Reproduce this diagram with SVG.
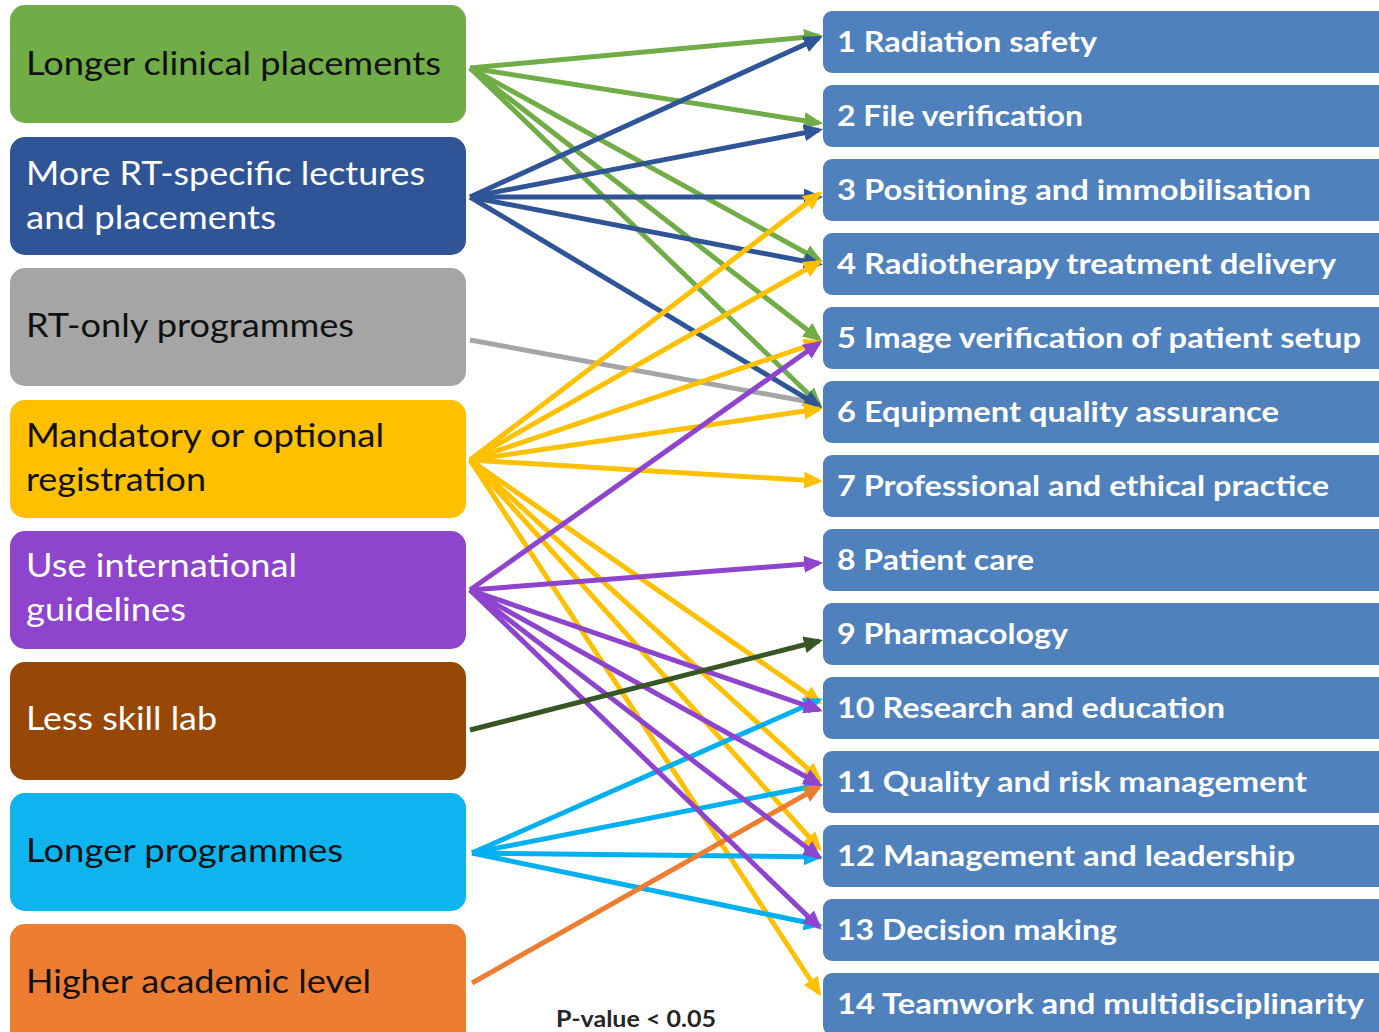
<svg xmlns="http://www.w3.org/2000/svg" width="1379" height="1032" viewBox="0 0 1379 1032">
  <style>
    .lbl { font-family: Lato, "Liberation Sans", sans-serif; font-size: 32px; }
    .dark { fill: #111111; }
    .light { fill: #ffffff; }
    .out { fill: #4F81BD; }
    .outlbl { font-family: Lato, "Liberation Sans", sans-serif; font-size: 28px; font-weight: bold; fill: #ffffff; }
    .con { fill: none; stroke-width: 5; stroke-linecap: butt; }
    .g { stroke: #70AD47; marker-end: url(#ah-g); }
    .b { stroke: #2F5597; marker-end: url(#ah-b); }
    .gr { stroke: #A5A5A5; }
    .y { stroke: #FFC000; marker-end: url(#ah-y); }
    .p { stroke: #8E44CC; marker-end: url(#ah-p); }
    .dg { stroke: #375623; marker-end: url(#ah-dg); }
    .c { stroke: #00B0F0; marker-end: url(#ah-c); }
    .o { stroke: #ED7D31; marker-end: url(#ah-o); }
    .note { font-family: Lato, "Liberation Sans", sans-serif; font-size: 22px; font-weight: bold; fill: #262626; }
  </style>
  <defs>
    <marker id="ah-g" markerUnits="userSpaceOnUse" markerWidth="19" markerHeight="17" refX="15" refY="8.5" orient="auto"><path d="M0,0 L19,8.5 L0,17 z" fill="#70AD47"/></marker>
    <marker id="ah-b" markerUnits="userSpaceOnUse" markerWidth="19" markerHeight="17" refX="15" refY="8.5" orient="auto"><path d="M0,0 L19,8.5 L0,17 z" fill="#2F5597"/></marker>
    <marker id="ah-y" markerUnits="userSpaceOnUse" markerWidth="19" markerHeight="17" refX="15" refY="8.5" orient="auto"><path d="M0,0 L19,8.5 L0,17 z" fill="#FFC000"/></marker>
    <marker id="ah-p" markerUnits="userSpaceOnUse" markerWidth="19" markerHeight="17" refX="15" refY="8.5" orient="auto"><path d="M0,0 L19,8.5 L0,17 z" fill="#8E44CC"/></marker>
    <marker id="ah-dg" markerUnits="userSpaceOnUse" markerWidth="19" markerHeight="17" refX="15" refY="8.5" orient="auto"><path d="M0,0 L19,8.5 L0,17 z" fill="#375623"/></marker>
    <marker id="ah-c" markerUnits="userSpaceOnUse" markerWidth="19" markerHeight="17" refX="15" refY="8.5" orient="auto"><path d="M0,0 L19,8.5 L0,17 z" fill="#00B0F0"/></marker>
    <marker id="ah-o" markerUnits="userSpaceOnUse" markerWidth="19" markerHeight="17" refX="15" refY="8.5" orient="auto"><path d="M0,0 L19,8.5 L0,17 z" fill="#ED7D31"/></marker>
  </defs>

  <rect width="1379" height="1032" fill="#ffffff"/>

  <!-- factor nodes (left column) -->
  <g id="f-clinical">
    <rect x="10" y="5" width="456" height="118" rx="15" fill="#70AD47"/>
    <text class="lbl dark" x="26" y="75" textLength="415" lengthAdjust="spacingAndGlyphs">Longer clinical placements</text>
  </g>
  <g id="f-rt-lectures">
    <rect x="10" y="137" width="456" height="118" rx="15" fill="#2F5597"/>
    <text class="lbl light" x="26" y="185" textLength="399" lengthAdjust="spacingAndGlyphs">More RT-specific lectures</text>
    <text class="lbl light" x="26" y="229" textLength="250" lengthAdjust="spacingAndGlyphs">and placements</text>
  </g>
  <g id="f-rt-only">
    <rect x="10" y="268" width="456" height="118" rx="15" fill="#A5A5A5"/>
    <text class="lbl dark" x="26" y="337" textLength="328" lengthAdjust="spacingAndGlyphs">RT-only programmes</text>
  </g>
  <g id="f-registration">
    <rect x="10" y="400" width="456" height="118" rx="15" fill="#FFC000"/>
    <text class="lbl dark" x="26" y="447" textLength="358" lengthAdjust="spacingAndGlyphs">Mandatory or optional</text>
    <text class="lbl dark" x="26" y="491" textLength="180" lengthAdjust="spacingAndGlyphs">registration</text>
  </g>
  <g id="f-guidelines">
    <rect x="10" y="531" width="456" height="118" rx="15" fill="#8E44CC"/>
    <text class="lbl light" x="26" y="577" textLength="271" lengthAdjust="spacingAndGlyphs">Use international</text>
    <text class="lbl light" x="26" y="621" textLength="160" lengthAdjust="spacingAndGlyphs">guidelines</text>
  </g>
  <g id="f-skill-lab">
    <rect x="10" y="662" width="456" height="118" rx="15" fill="#974706"/>
    <text class="lbl light" x="26" y="730" textLength="191" lengthAdjust="spacingAndGlyphs">Less skill lab</text>
  </g>
  <g id="f-longer-prog">
    <rect x="10" y="793" width="456" height="118" rx="15" fill="#0EB4EE"/>
    <text class="lbl dark" x="26" y="862" textLength="317" lengthAdjust="spacingAndGlyphs">Longer programmes</text>
  </g>
  <g id="f-academic">
    <rect x="10" y="924" width="456" height="130" rx="15" fill="#ED7D31"/>
    <text class="lbl dark" x="26" y="993" textLength="345" lengthAdjust="spacingAndGlyphs">Higher academic level</text>
  </g>

  <!-- competency nodes (right column) -->
  <g id="c1"><rect class="out" x="823" y="11" width="580" height="62" rx="9"/><text class="outlbl" x="837" y="52" textLength="260" lengthAdjust="spacingAndGlyphs">1 Radiation safety</text></g>
  <g id="c2"><rect class="out" x="823" y="85" width="580" height="62" rx="9"/><text class="outlbl" x="837" y="126" textLength="246" lengthAdjust="spacingAndGlyphs">2 File verification</text></g>
  <g id="c3"><rect class="out" x="823" y="159" width="580" height="62" rx="9"/><text class="outlbl" x="837" y="200" textLength="474" lengthAdjust="spacingAndGlyphs">3 Positioning and immobilisation</text></g>
  <g id="c4"><rect class="out" x="823" y="233" width="580" height="62" rx="9"/><text class="outlbl" x="837" y="274" textLength="499" lengthAdjust="spacingAndGlyphs">4 Radiotherapy treatment delivery</text></g>
  <g id="c5"><rect class="out" x="823" y="307" width="580" height="62" rx="9"/><text class="outlbl" x="837" y="348" textLength="524" lengthAdjust="spacingAndGlyphs">5 Image verification of patient setup</text></g>
  <g id="c6"><rect class="out" x="823" y="381" width="580" height="62" rx="9"/><text class="outlbl" x="837" y="422" textLength="442" lengthAdjust="spacingAndGlyphs">6 Equipment quality assurance</text></g>
  <g id="c7"><rect class="out" x="823" y="455" width="580" height="62" rx="9"/><text class="outlbl" x="837" y="496" textLength="492" lengthAdjust="spacingAndGlyphs">7 Professional and ethical practice</text></g>
  <g id="c8"><rect class="out" x="823" y="529" width="580" height="62" rx="9"/><text class="outlbl" x="837" y="570" textLength="197" lengthAdjust="spacingAndGlyphs">8 Patient care</text></g>
  <g id="c9"><rect class="out" x="823" y="603" width="580" height="62" rx="9"/><text class="outlbl" x="837" y="644" textLength="231" lengthAdjust="spacingAndGlyphs">9 Pharmacology</text></g>
  <g id="c10"><rect class="out" x="823" y="677" width="580" height="62" rx="9"/><text class="outlbl" x="837" y="718" textLength="388" lengthAdjust="spacingAndGlyphs">10 Research and education</text></g>
  <g id="c11"><rect class="out" x="823" y="751" width="580" height="62" rx="9"/><text class="outlbl" x="837" y="792" textLength="470" lengthAdjust="spacingAndGlyphs">11 Quality and risk management</text></g>
  <g id="c12"><rect class="out" x="823" y="825" width="580" height="62" rx="9"/><text class="outlbl" x="837" y="866" textLength="458" lengthAdjust="spacingAndGlyphs">12 Management and leadership</text></g>
  <g id="c13"><rect class="out" x="823" y="899" width="580" height="62" rx="9"/><text class="outlbl" x="837" y="940" textLength="280" lengthAdjust="spacingAndGlyphs">13 Decision making</text></g>
  <g id="c14"><rect class="out" x="823" y="973" width="580" height="62" rx="9"/><text class="outlbl" x="837" y="1014" textLength="527" lengthAdjust="spacingAndGlyphs">14 Teamwork and multidisciplinarity</text></g>

  <!-- connectors -->
  <g id="connectors">
    <line class="con gr" x1="470" y1="340" x2="815" y2="403"/>

    <line class="con g" x1="470" y1="68" x2="819" y2="36"/>
    <line class="con g" x1="470" y1="68" x2="819" y2="123"/>
    <line class="con g" x1="470" y1="68" x2="819" y2="260"/>
    <line class="con g" x1="470" y1="68" x2="819" y2="339"/>
    <line class="con g" x1="470" y1="68" x2="819" y2="404"/>

    <line class="con b" x1="470" y1="197" x2="819" y2="38"/>
    <line class="con b" x1="470" y1="197" x2="819" y2="130"/>
    <line class="con b" x1="470" y1="197" x2="819" y2="197"/>
    <line class="con b" x1="470" y1="197" x2="819" y2="264"/>
    <line class="con b" x1="470" y1="197" x2="819" y2="406"/>

    <line class="con y" x1="470" y1="460" x2="819" y2="194"/>
    <line class="con y" x1="470" y1="460" x2="819" y2="262"/>
    <line class="con y" x1="470" y1="460" x2="819" y2="342"/>
    <line class="con y" x1="470" y1="460" x2="819" y2="409"/>
    <line class="con y" x1="470" y1="460" x2="819" y2="481"/>
    <line class="con y" x1="470" y1="460" x2="819" y2="702"/>
    <line class="con y" x1="470" y1="460" x2="819" y2="779"/>
    <line class="con y" x1="470" y1="460" x2="819" y2="848"/>
    <line class="con y" x1="470" y1="460" x2="819" y2="993"/>

    <line class="con c" x1="472" y1="853" x2="819" y2="700"/>
    <line class="con c" x1="472" y1="853" x2="819" y2="785"/>
    <line class="con c" x1="472" y1="853" x2="819" y2="857"/>
    <line class="con c" x1="472" y1="853" x2="819" y2="925"/>

    <line class="con o" x1="472" y1="983" x2="819" y2="787"/>

    <line class="con p" x1="470" y1="590" x2="819" y2="343"/>
    <line class="con p" x1="470" y1="590" x2="819" y2="563"/>
    <line class="con p" x1="470" y1="590" x2="819" y2="710"/>
    <line class="con p" x1="470" y1="590" x2="819" y2="784"/>
    <line class="con p" x1="470" y1="590" x2="819" y2="857"/>
    <line class="con p" x1="470" y1="590" x2="819" y2="927"/>

    <line class="con dg" x1="470" y1="730" x2="819" y2="641"/>
  </g>

  <text class="note" x="556" y="1027" textLength="160" lengthAdjust="spacingAndGlyphs">P-value &lt; 0.05</text>
</svg>
